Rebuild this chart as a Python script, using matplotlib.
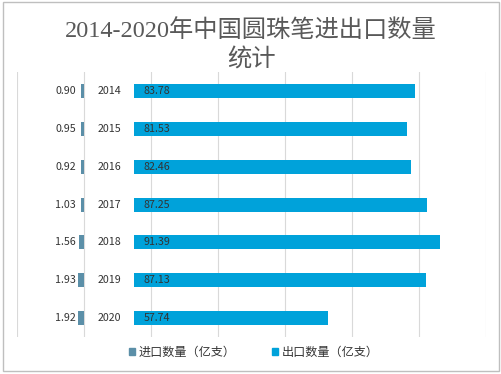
import matplotlib
matplotlib.use("Agg")
import matplotlib.pyplot as plt
from matplotlib.patches import Patch, Rectangle

plt.rcParams['font.family'] = ['Noto Sans CJK SC', 'DejaVu Sans']

years = ['2014', '2015', '2016', '2017', '2018', '2019', '2020']
imports = [0.90, 0.95, 0.92, 1.03, 1.56, 1.93, 1.92]
exports = [83.78, 81.53, 82.46, 87.25, 91.39, 87.13, 57.74]
title = '2014-2020年中国圆珠笔进出口数量\n统计'
legend_labels = ['进口数量（亿支）', '出口数量（亿支）']

imp_color = '#5B8FA8'
exp_color = '#00A2DA'
txt_color = '#333333'
offset = 15

fig = plt.figure(figsize=(5.02, 3.74), dpi=100)
fig.patches.append(Rectangle((0.006, 0.009), 0.988, 0.985, transform=fig.transFigure,
                             fill=False, edgecolor='#BFBFBF', linewidth=1.0))
ax = fig.add_axes([0.0339, 0.099, 0.9343, 0.708])

ys = list(range(len(years)))
ax.barh(ys, [-v for v in imports], left=0, height=0.37, color=imp_color, zorder=3)
ax.barh(ys, exports, left=offset, height=0.37, color=exp_color, zorder=3)

for y, yr, iv, ev in zip(ys, years, imports, exports):
    ax.text(-2.4, y, f'{iv:.2f}', ha='right', va='center', fontsize=7.7,
            color=txt_color, zorder=4)
    ax.text(offset / 2, y, yr, ha='center', va='center', fontsize=7.7,
            color=txt_color, zorder=4)
    ax.text(offset + 2.7, y, f'{ev:.2f}', ha='left', va='center', fontsize=7.7,
            color=txt_color, zorder=4)

ax.set_xlim(-20, 120)
ax.set_ylim(6.5, -0.5)
ax.set_xticks(range(-20, 121, 20))
ax.set_yticks([])
ax.tick_params(axis='x', length=0, labelbottom=False)
ax.grid(axis='x', color='#D9D9D9', linewidth=0.8, zorder=0)
for s in ax.spines.values():
    s.set_visible(False)

fig.text(0.5, 0.878, title, ha='center', va='center', fontsize=17.5,
         color='#595959', family=['Liberation Serif', 'Noto Sans CJK SC'],
         linespacing=1.38)

handles = [Patch(color=imp_color), Patch(color=exp_color)]
fig.legend(handles, legend_labels, loc='center', bbox_to_anchor=(0.505, 0.058),
           ncol=2, frameon=False, fontsize=8.7, handlelength=0.5, handleheight=0.5,
           handletextpad=0.3, columnspacing=3.0, labelcolor=txt_color)

fig.savefig('out.png', dpi=100)
